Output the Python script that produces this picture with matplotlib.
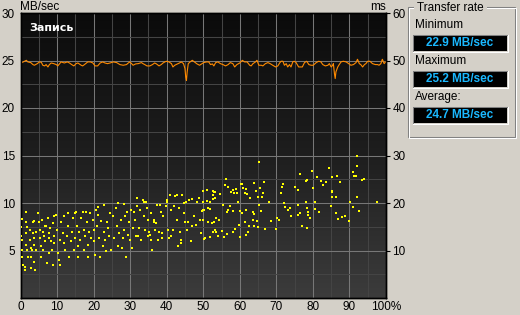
#!/usr/bin/env python3
# -*- coding: utf-8 -*-
"""Write benchmark screen: transfer rate (MB/sec) and access time (ms)."""

import numpy as np
import matplotlib
matplotlib.use("Agg")
import matplotlib.pyplot as plt
from matplotlib.colors import LinearSegmentedColormap
from matplotlib.patches import Rectangle

# ---- data ----
# transfer rate curve: position (% of disk) -> MB/sec
WRITE_PCT = [0.0, 0.2, 1.6, 2.0, 2.8, 3.4, 3.8, 4.6, 5.2, 5.7, 6.1, 6.6, 7.0, 7.5, 7.9,
             8.4, 9.1, 9.8, 10.2, 10.7, 11.1, 12.0, 12.8, 13.4, 14.0, 14.6, 15.2, 15.7,
             16.6, 17.0, 17.5, 18.4, 19.1, 19.8, 20.4, 21.1, 21.8, 22.5, 23.1, 23.8,
             24.5, 25.4, 26.3, 27.2, 28.1, 29.0, 29.5, 29.9, 30.4, 30.8, 31.5, 32.2,
             33.1, 33.5, 34.0, 34.6, 35.4, 36.1, 36.7, 37.2, 37.9, 38.5, 39.0, 39.5,
             39.9, 40.6, 41.3, 41.7, 42.2, 42.6, 43.5, 44.0, 44.6, 45.0, 45.2, 45.4,
             45.6, 45.9, 46.4, 47.0, 47.6, 48.3, 49.0, 49.7, 50.1, 50.9, 51.5, 52.0,
             52.5, 52.9, 53.4, 54.0, 54.7, 55.4, 56.1, 56.8, 57.4, 58.1, 58.6, 59.2,
             60.0, 60.7, 61.3, 62.0, 62.7, 63.1, 63.6, 64.3, 64.7, 65.2, 65.9, 66.3,
             67.0, 67.7, 68.3, 69.0, 69.8, 70.4, 70.9, 71.3, 71.8, 72.2, 72.7, 73.1,
             73.6, 74.0, 74.5, 74.9, 75.4, 76.1, 77.1, 77.7, 78.3, 78.9, 79.5, 80.1,
             80.9, 81.6, 82.2, 82.7, 83.4, 84.1, 84.5, 85.0, 85.4, 85.6, 85.9, 86.1,
             86.3, 86.8, 87.2, 87.7, 88.3, 89.1, 89.8, 90.4, 91.1, 91.8, 92.2, 92.7,
             93.1, 93.6, 94.1, 94.5, 95.0, 95.6, 96.3, 97.1, 97.7, 98.1, 98.6, 99.0,
             99.5, 99.9]
WRITE_MBS = [24.50, 24.74, 25.02, 24.85, 24.78, 24.57, 24.50, 24.67, 24.85, 24.81, 24.50,
             24.43, 24.57, 24.32, 24.57, 24.74, 24.67, 24.57, 24.43, 24.67, 24.85, 24.74,
             24.85, 24.74, 24.57, 24.43, 24.67, 24.74, 24.50, 24.43, 24.57, 24.85, 24.85,
             24.74, 24.43, 24.43, 24.74, 24.85, 24.74, 24.67,
             24.74, 24.85, 24.78, 24.57, 24.50, 24.57, 24.74, 24.85, 24.67, 24.50, 24.64,
             24.67, 24.78, 24.67, 24.57, 24.43, 24.43, 24.57, 24.74, 24.64, 24.43, 24.57,
             24.74, 24.85, 24.92, 24.85, 24.67, 24.32, 24.50, 24.57, 24.74, 24.85, 24.67,
             24.15, 23.27, 22.90, 23.80, 24.67, 24.85, 25.02, 24.85, 24.64, 24.50, 24.67,
             24.78, 24.85, 24.85, 24.57, 24.64, 24.43, 24.78, 24.85, 24.67, 24.57, 24.43,
             24.57, 24.78, 24.67, 24.32, 24.57, 24.74, 25.02, 24.85, 24.85, 24.50, 24.43,
             24.67, 24.85, 25.02, 24.50, 24.50, 24.43, 24.67, 24.78, 24.67, 24.50, 24.32,
             24.43, 24.74, 24.92, 24.92, 24.50, 24.67, 24.32, 24.57, 24.32, 24.85, 24.92,
             24.78, 24.32, 24.32, 24.78, 24.92, 24.57, 24.50, 24.50, 24.78, 24.92, 24.85,
             24.57, 24.43, 24.50, 24.67, 24.32, 24.50, 24.67, 23.60, 23.10, 23.80, 24.32,
             24.57, 24.85, 24.92, 24.85, 24.67, 24.50, 24.57, 24.78, 25.13, 24.67, 24.57,
             24.32, 24.57, 24.67, 24.92, 24.92, 24.67, 24.57, 24.57, 24.50, 24.67, 25.13,
             24.67, 24.85]

# access time samples: (position %, ms)
ACCESS_0_4 = [(0.4, 16.6), (0.2, 14.9), (0.2, 13.1), (0.4, 12.3), (0.4, 10.1), (0.4, 8.7),
              (0.7, 7.0), (1.3, 6.6), (1.1, 5.9), (1.6, 18.2), (1.6, 16.1), (1.8, 14.9),
              (1.6, 13.7), (1.6, 11.2), (1.8, 10.1), (2.0, 8.7), (2.5, 14.4), (2.5, 12.3),
              (2.8, 10.5), (2.8, 6.3), (2.9, 8.7), (3.1, 10.1), (3.4, 13.7), (3.4, 16.1),
              (3.7, 16.3), (3.7, 11.2), (3.8, 12.6), (3.8, 7.5), (4.0, 5.9), (4.3, 14.0),
              (4.3, 10.1)]
ACCESS_4_9 = [(4.8, 17.9), (5.0, 16.1), (5.2, 14.4), (5.2, 12.6), (5.5, 10.9), (5.7, 8.7),
              (5.8, 16.5), (6.1, 14.0), (6.1, 10.1), (6.4, 13.0), (6.6, 15.2), (6.8, 11.9),
              (7.0, 15.1), (7.3, 7.3), (7.5, 16.8), (7.7, 13.7), (7.9, 12.6), (7.9, 9.4),
              (8.2, 14.7), (8.4, 11.9), (8.6, 10.1), (8.8, 7.0), (8.8, 15.8), (9.1, 13.1),
              (9.3, 11.6), (9.3, 17.2)]
ACCESS_9_19 = [(9.8, 17.5), (10.0, 14.4), (10.2, 9.4), (10.4, 8.0), (10.7, 12.3), (10.9, 7.0),
               (11.1, 16.1), (11.6, 13.7), (11.8, 11.6), (12.0, 17.2), (12.2, 10.1),
               (12.8, 13.0), (12.9, 17.9), (13.1, 15.1), (13.4, 8.7), (13.8, 11.9),
               (14.0, 14.0), (14.3, 16.8), (14.6, 10.1), (14.8, 17.9), (14.9, 12.6),
               (15.2, 18.2), (15.5, 15.2), (15.7, 10.9), (15.8, 8.7), (16.1, 14.0),
               (16.4, 12.3), (16.6, 16.8), (17.0, 18.2), (17.3, 10.1), (17.5, 14.4),
               (17.7, 13.0), (18.0, 18.2), (18.2, 16.1), (18.4, 11.2), (18.6, 8.7),
               (18.8, 14.0), (19.1, 17.9), (19.3, 12.6)]
ACCESS_19_29 = [(19.8, 16.5), (20.0, 14.4), (20.2, 11.9), (20.4, 9.1), (20.7, 18.6),
                (20.9, 15.1), (21.1, 19.1), (21.3, 17.5), (21.6, 12.6), (21.8, 8.7),
                (22.0, 16.3), (22.5, 10.9), (22.8, 13.8), (22.9, 19.6), (23.1, 12.3),
                (23.4, 9.8), (23.8, 16.1), (24.0, 14.7), (24.3, 13.0), (24.6, 17.9),
                (24.8, 10.1), (25.2, 17.2), (25.7, 12.6), (26.1, 18.9), (26.4, 15.1),
                (26.6, 10.9), (26.8, 20.0), (27.0, 13.7), (27.5, 16.5), (27.7, 10.5),
                (28.0, 12.6), (28.2, 19.8), (28.4, 14.4), (28.6, 17.2), (28.8, 8.7),
                (29.1, 18.2)]
ACCESS_29_39 = [(29.5, 13.3), (29.8, 16.1), (30.0, 12.3), (30.2, 18.6), (30.4, 10.5),
                (30.7, 14.7), (31.1, 18.2), (31.3, 16.5), (31.6, 13.1), (31.8, 19.3),
                (32.0, 21.0), (32.2, 13.0), (32.5, 14.7), (32.8, 18.6), (33.0, 12.3),
                (33.4, 20.7), (33.7, 17.2), (33.8, 20.3), (34.0, 14.4), (34.3, 20.3),
                (34.6, 18.9), (34.8, 16.5), (34.9, 13.0), (35.2, 14.0), (35.5, 13.3),
                (35.7, 17.9), (35.8, 12.3), (36.1, 10.1), (36.4, 16.1), (36.6, 16.5),
                (36.8, 14.4), (37.0, 15.8), (37.3, 19.6), (37.5, 12.3), (38.0, 14.0),
                (38.2, 19.6), (38.4, 18.2), (38.6, 12.6), (38.8, 13.7), (39.1, 17.2)]
ACCESS_39_50 = [(39.8, 19.3), (40.0, 20.7), (40.2, 20.3), (40.4, 14.4), (40.7, 12.6),
                (40.9, 21.7), (41.1, 13.0), (41.3, 18.6), (41.6, 14.4), (42.0, 19.3),
                (42.2, 21.4), (42.8, 21.7), (42.9, 16.5), (43.1, 10.9), (43.4, 18.9),
                (43.7, 14.0), (43.8, 12.3), (44.0, 11.6), (44.3, 21.7), (44.6, 20.0),
                (44.8, 17.9), (44.9, 16.1), (45.2, 20.3), (45.5, 14.4), (45.7, 16.1),
                (46.1, 20.7), (46.6, 11.9), (46.8, 20.8), (47.0, 15.1), (47.5, 17.2),
                (47.9, 15.4), (48.4, 20.3), (48.8, 21.0), (49.1, 16.5), (49.3, 13.7),
                (49.6, 18.4)]
ACCESS_50_100_HI = [(65.2, 28.6), (92.0, 29.9), (92.2, 27.8), (76.6, 26.1), (79.7, 26.8),
                    (84.3, 27.3), (91.1, 26.5), (91.3, 25.7), (91.9, 25.7), (81.0, 25.4),
                    (85.2, 25.4), (86.7, 25.7), (78.5, 24.8), (78.1, 24.6), (82.2, 24.6),
                    (83.7, 24.4), (82.9, 23.8), (87.3, 24.4), (93.5, 24.8), (94.1, 25.0),
                    (56.3, 25.0), (56.0, 23.8), (56.7, 23.3), (60.4, 24.0), (60.6, 24.0),
                    (64.0, 24.2), (66.5, 24.4), (71.7, 24.0), (71.5, 23.3), (75.0, 23.3),
                    (75.8, 22.7), (79.9, 23.1), (85.1, 22.5), (85.1, 22.3), (92.2, 21.2),
                    (51.0, 22.7), (49.9, 22.5), (52.6, 22.5), (52.9, 22.3), (53.3, 22.3),
                    (52.6, 21.7), (54.5, 21.9), (57.6, 22.3), (58.1, 22.7), (58.5, 22.1),
                    (59.2, 22.1), (59.0, 22.9), (60.8, 23.1), (61.8, 22.9), (61.5, 22.1),
                    (61.9, 21.9), (62.7, 21.0), (65.1, 21.2), (66.1, 21.2), (66.3, 22.1),
                    (65.4, 23.1), (64.5, 22.5)]
ACCESS_50_100_MID = [(49.9, 20.3), (51.0, 20.4), (51.8, 20.3), (52.6, 20.8), (53.1, 21.0),
                     (49.8, 18.5), (50.1, 18.6), (51.3, 18.9), (51.9, 18.8), (55.4, 19.6),
                     (56.5, 18.2), (56.8, 18.6), (57.2, 19.3), (58.1, 18.4), (59.4, 20.3),
                     (60.1, 18.4), (60.5, 17.9), (61.8, 18.6), (63.6, 18.2), (63.9, 17.7),
                     (65.2, 19.6), (65.7, 18.4), (68.0, 20.2), (71.3, 22.1), (72.0, 20.0),
                     (72.3, 19.1), (73.2, 18.6), (73.6, 18.9), (74.1, 17.2), (75.9, 19.6),
                     (75.9, 17.4), (76.4, 17.9), (78.0, 20.3), (78.4, 18.9), (78.6, 18.2),
                     (78.7, 17.4), (79.1, 16.8), (80.5, 18.7), (80.7, 20.3), (81.8, 18.2),
                     (85.0, 19.3), (86.2, 21.2), (85.2, 21.2), (86.2, 17.9), (86.8, 16.6),
                     (87.9, 17.0), (88.8, 17.3), (89.8, 16.2), (90.2, 20.3), (90.9, 19.1),
                     (92.6, 18.4), (97.5, 20.2)]
ACCESS_50_100_LO = [(49.8, 16.5), (51.3, 15.9), (52.5, 15.8), (52.9, 15.9), (53.6, 16.8),
                    (54.3, 16.5), (53.6, 14.0), (54.1, 13.0), (52.6, 14.0), (53.1, 14.4),
                    (51.8, 12.8), (50.4, 12.6), (50.1, 12.4), (55.2, 14.2), (55.6, 12.8),
                    (56.5, 13.5), (58.6, 14.5), (58.1, 13.9), (59.8, 15.4), (60.1, 12.8),
                    (61.3, 16.1), (62.5, 15.1), (62.2, 13.9), (61.8, 13.2), (63.6, 16.5),
                    (63.9, 15.1), (65.0, 14.9), (64.7, 16.3), (66.8, 14.6), (68.6, 16.3),
                    (69.8, 14.5), (70.2, 16.8), (70.7, 16.5), (77.1, 15.1), (78.4, 14.7)]

STAT_LABELS = ["Minimum", "Maximum", "Average:"]
STAT_VALUES = [22.9, 25.2, 24.7]

WIN_BG = "#d4d0c8"
FIG_W, FIG_H = 520, 315

plt.rcParams.update({
    "font.family": ["Liberation Sans", "DejaVu Sans"],
    "font.size": 8,
})

fig = plt.figure(figsize=(FIG_W / 100, FIG_H / 100), dpi=100, facecolor=WIN_BG)

# main plot area (pixel box 20.5..386 x 13..298)
ax = fig.add_axes([20.5 / FIG_W, 17 / FIG_H, 365.5 / FIG_W, 285 / FIG_H])
grad = LinearSegmentedColormap.from_list("bg", ["#0b0b0b", "#1e1e1e", "#3c3c3c"])
ax.imshow(np.linspace(0, 1, 256).reshape(-1, 1), cmap=grad, aspect="auto",
          extent=[0, 1, 0, 1], transform=ax.transAxes, zorder=0)
ax.set_xlim(0, 100)
ax.set_ylim(0, 30)

# grid: bright every 10 % / 5 MB/s, dim in between
for x in np.arange(5, 100, 10):
    ax.axvline(x, color="#444444", lw=0.75, zorder=1)
for x in np.arange(0, 100, 10):
    ax.axvline(x, color="#777777", lw=0.75, zorder=1)
for y in np.arange(2.5, 30, 5):
    ax.axhline(y, color="#444444", lw=0.75, zorder=1)
for y in np.arange(5, 30, 5):
    ax.axhline(y, color="#777777", lw=0.75, zorder=1)

ax.plot(WRITE_PCT, WRITE_MBS, color="#ff8a00", lw=0.8, zorder=3)

ax.set_xticks(np.arange(0, 101, 10))
ax.set_xticklabels([str(v) for v in range(0, 100, 10)] + ["100%"])
ax.set_yticks(np.arange(5, 31, 5))
ax.tick_params(axis="x", length=0, pad=2, labelsize=8.5, colors="black")
ax.tick_params(axis="y", length=0, pad=4, labelsize=8.5, colors="black")
for s in ax.spines.values():
    s.set_color("black")
    s.set_linewidth(1.0)

ax2 = ax.twinx()
ax2.set_ylim(0, 60)
ax2.set_yticks(np.arange(10, 61, 10))
ax2.tick_params(axis="y", length=3, width=0.8, pad=1.5, labelsize=8.5, colors="black")
pts = np.array(ACCESS_0_4 + ACCESS_4_9 + ACCESS_9_19 + ACCESS_19_29 + ACCESS_29_39
               + ACCESS_39_50 + ACCESS_50_100_HI + ACCESS_50_100_MID + ACCESS_50_100_LO)
ax2.plot(pts[:, 0], pts[:, 1], linestyle="none", marker="s", markersize=1.5,
         markeredgewidth=0, color="#ffff00", zorder=4)
for s in ax2.spines.values():
    s.set_color("black")
    s.set_linewidth(1.0)

ax.text(0.025, 0.965, "Запись", transform=ax.transAxes, color="white",
        fontsize=8, fontweight="bold", family="DejaVu Sans", va="top", ha="left", zorder=5)

# overlay in screen pixels for the window furniture
ov = fig.add_axes([0, 0, 1, 1], zorder=-1)
ov.set_xlim(0, FIG_W)
ov.set_ylim(FIG_H, 0)
ov.axis("off")

ov.text(20, 10.5, "MB/sec", fontsize=8.5, va="baseline", ha="left")
ov.text(386, 10.5, "ms", fontsize=8.5, va="baseline", ha="right")

# group box "Transfer rate" (etched frame)
ov.add_patch(Rectangle((407.5, 6.5), 107, 130, fill=False, ec="#808080", lw=0.75))
ov.add_patch(Rectangle((408.5, 7.5), 107, 130, fill=False, ec="white", lw=0.75))
ov.text(414, 11, " Transfer rate ", fontsize=8.5, va="baseline", ha="left",
        bbox=dict(boxstyle="square,pad=0", fc=WIN_BG, ec="none"))

label_y = [28, 64, 100]
box_y = [35, 71, 107]
for lab, val, ly, by in zip(STAT_LABELS, STAT_VALUES, label_y, box_y):
    ov.text(415, ly, lab, fontsize=8.5, va="baseline", ha="left")
    ov.add_patch(Rectangle((413, by), 94, 16, fc="black", ec="none"))
    ov.plot([413, 413, 507], [by + 16, by, by], color="#808080", lw=0.75)
    ov.plot([413, 507.5, 507.5], [by + 16.5, by + 16.5, by], color="white", lw=0.75)
    ov.text(460, by + 8.3, f"{val:.1f} MB/sec", color="#1ab8ff", fontsize=8.5,
            fontweight="bold", va="center", ha="center")

fig.savefig("out.png", dpi=100, facecolor=WIN_BG)
